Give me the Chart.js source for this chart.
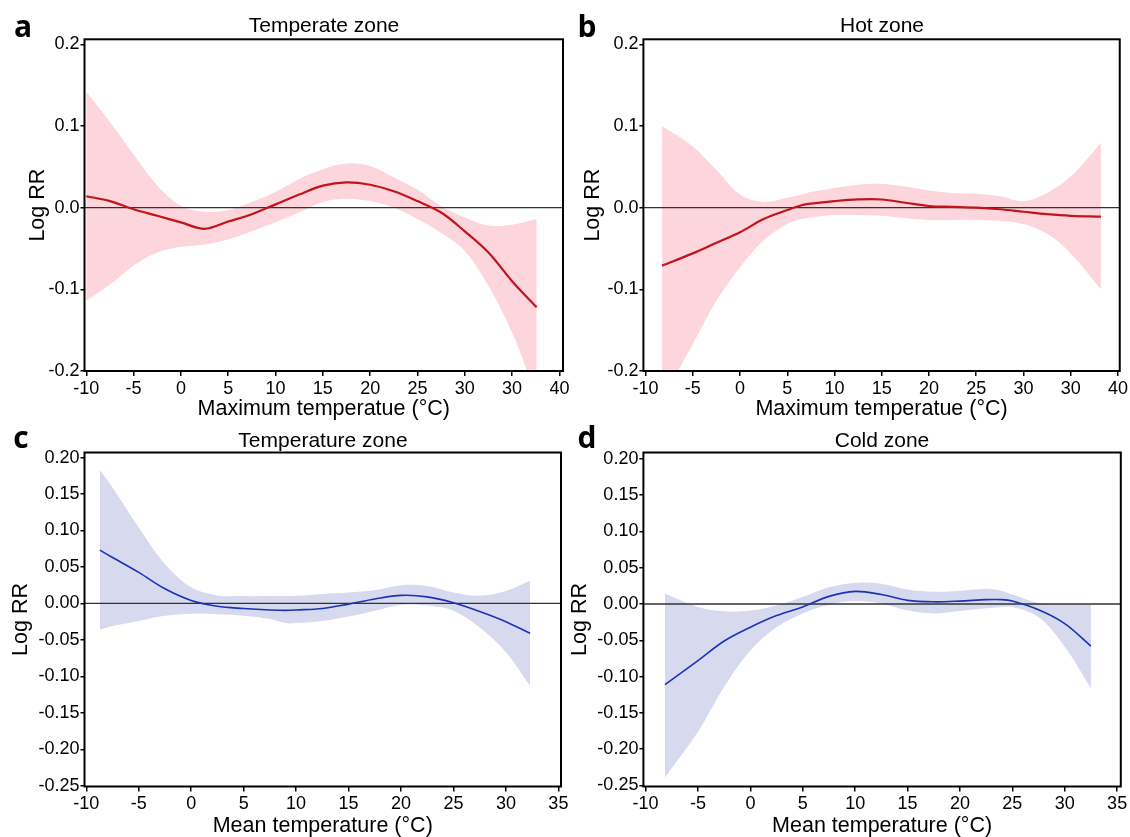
<!DOCTYPE html>
<html>
<head>
<meta charset="utf-8">
<script src="https://cdn.jsdelivr.net/npm/chart.js@4.4.1/dist/chart.umd.min.js"></script>
<style>
  body { margin: 0; background: #fff; }
  #wrap { position: relative; width: 1130px; height: 837px; overflow: hidden; }
  #wrap canvas { position: absolute; left: 0; top: 0; }
  .lbl { position: absolute; font-family: "Liberation Sans", Arial, sans-serif; color: #000; white-space: nowrap; transform: translate(-50%, -50%); }
  .title { font-size: 21px; }
  .letter { font-family: "Open Sans", sans-serif; font-weight: bold; font-size: 30px; }
</style>
</head>
<body>
<div id="wrap">
  <canvas id="cA" width="1130" height="837"></canvas>
  <canvas id="cB" width="1130" height="837"></canvas>
  <canvas id="cC" width="1130" height="837"></canvas>
  <canvas id="cD" width="1130" height="837"></canvas>
  <div class="lbl letter" style="left:23px;top:25px">a</div>
  <div class="lbl letter" style="left:587px;top:25px">b</div>
  <div class="lbl letter" style="left:21px;top:436px">c</div>
  <div class="lbl letter" style="left:587px;top:436px">d</div>
  <div class="lbl title" style="left:324px;top:25px">Temperate zone</div>
  <div class="lbl title" style="left:882px;top:25px">Hot zone</div>
  <div class="lbl title" style="left:323px;top:440px">Temperature zone</div>
  <div class="lbl title" style="left:882px;top:440px">Cold zone</div>
</div>
<script>
/* --------------- Data: panel a (temperate, max temp) --------------- */
const xA = [-10, -7.5, -5, -2.5, 0, 2.5, 5, 7.5, 10, 12.5, 15, 17.5, 20, 22.5, 25, 27.5, 30, 32.5, 35, 37.6];
const fitA = [0.014, 0.008, -0.002, -0.010, -0.018, -0.026, -0.017, -0.008, 0.004, 0.016, 0.027, 0.031, 0.028, 0.020, 0.008, -0.006, -0.029, -0.055, -0.090, -0.122];
const upA = [0.142, 0.105, 0.065, 0.027, 0.002, -0.005, -0.003, 0.007, 0.019, 0.035, 0.047, 0.054, 0.051, 0.037, 0.022, 0.002, -0.012, -0.022, -0.021, -0.014];
const lowA = [-0.114, -0.094, -0.071, -0.055, -0.048, -0.045, -0.039, -0.029, -0.018, -0.006, 0.007, 0.011, 0.008, 0.000, -0.014, -0.031, -0.053, -0.096, -0.153, -0.232];

/* --------------- Data: panel b (hot, max temp) --------------- */
const xB = [-8.25, -5, -2.5, 0, 2.5, 5, 6.5, 7.5, 10, 12.5, 15, 17.5, 20, 22.5, 25, 27.5, 30, 32.5, 35, 38.2];
const fitB = [-0.071, -0.056, -0.043, -0.030, -0.014, -0.003, 0.003, 0.005, 0.008, 0.010, 0.010, 0.006, 0.002, 0.001, 0.000, -0.002, -0.005, -0.008, -0.010, -0.011];
const upB = [0.100, 0.075, 0.046, 0.016, 0.007, 0.012, 0.016, 0.019, 0.024, 0.028, 0.029, 0.026, 0.021, 0.018, 0.017, 0.014, 0.008, 0.018, 0.038, 0.079];
const lowB = [-0.235, -0.167, -0.114, -0.073, -0.040, -0.020, -0.014, -0.012, -0.009, -0.009, -0.010, -0.013, -0.015, -0.015, -0.015, -0.016, -0.020, -0.032, -0.056, -0.100];

/* --------------- Data: panel c (temperature zone, mean temp) --------------- */
const xC = [-8.7, -7.5, -5, -2.5, 0, 2.5, 5, 7.5, 9, 10, 12.5, 15, 17.5, 20, 22.5, 25, 27.5, 30, 32.3];
const fitC = [0.073, 0.063, 0.0425, 0.020, 0.004, -0.004, -0.007, -0.009, -0.0095, -0.009, -0.007, -0.001, 0.006, 0.011, 0.009, 0.001, -0.011, -0.025, -0.041];
const upC = [0.183, 0.159, 0.104, 0.054, 0.022, 0.011, 0.010, 0.010, 0.010, 0.0105, 0.013, 0.015, 0.018, 0.025, 0.024, 0.015, 0.0105, 0.017, 0.031];
const lowC = [-0.036, -0.031, -0.024, -0.017, -0.014, -0.015, -0.017, -0.0215, -0.027, -0.027, -0.024, -0.018, -0.010, -0.002, -0.003, -0.010, -0.033, -0.067, -0.113];

/* --------------- Data: panel d (cold zone, mean temp) --------------- */
const xD = [-8.15, -5, -2.5, 0, 2.5, 5, 7.5, 10, 12.5, 15, 17.5, 20, 22.5, 24, 25, 27.5, 30, 32.5];
const fitD = [-0.111, -0.078, -0.051, -0.032, -0.016, -0.004, 0.0105, 0.0174, 0.013, 0.005, 0.003, 0.004, 0.006, 0.006, 0.004, -0.008, -0.027, -0.058];
const upD = [0.014, -0.004, -0.010, -0.009, -0.002, 0.0096, 0.023, 0.029, 0.028, 0.020, 0.017, 0.018, 0.021, 0.018, 0.013, 0.0014, -0.0005, -0.0005];
const lowD = [-0.239, -0.176, -0.114, -0.064, -0.032, -0.013, -0.001, 0.004, 0.0005, -0.0087, -0.013, -0.0096, -0.006, -0.004, -0.004, -0.018, -0.059, -0.116];

/* --------------- Tick values and labels --------------- */
const xTicksMax = [-10, -5, 0, 5, 10, 15, 20, 25, 30, 35, 40];
const xLabelsMax = ["-10", "-5", "0", "5", "10", "15", "20", "25", "30", "30", "40"];
const xTicksMean = [-10, -5, 0, 5, 10, 15, 20, 25, 30, 35];
const xLabelsMean = ["-10", "-5", "0", "5", "10", "15", "20", "25", "30", "35"];
const yTicksMax = [-0.2, -0.1, 0, 0.1, 0.2];
const yLabelsMax = ["-0.2", "-0.1", "0.0", "0.1", "0.2"];
const yTicksMean = [-0.25, -0.2, -0.15, -0.1, -0.05, 0, 0.05, 0.1, 0.15, 0.2];
const yLabelsMean = ["-0.25", "-0.20", "-0.15", "-0.10", "-0.05", "0.00", "0.05", "0.10", "0.15", "0.20"];

/* --------------- Colors --------------- */
const pinkBand = "#fdd5dc";
const redLine = "#c3141c";
const blueBand = "#d7d9ef";
const blueLine = "#1a33b5";

const tickFont = { family: "'Liberation Sans', Arial, sans-serif", size: 18 };
const axisFont = { family: "'Liberation Sans', Arial, sans-serif", size: 21.5, lineHeight: 1.0 };

const pts = (xs, ys) => xs.map((x, i) => ({ x: x, y: ys[i] }));

/* draws the box around the plot area */
const boxPlugin = {
  id: "box",
  afterDatasetsDraw(chart) {
    const a = chart.chartArea, ctx = chart.ctx;
    ctx.save();
    ctx.strokeStyle = "#000";
    ctx.lineWidth = 2;
    ctx.strokeRect(a.left, a.top, a.right - a.left, a.bottom - a.top);
    ctx.restore();
  },
};

function makePanel(id, cfg) {
  // higher order is drawn first (underneath)
  const ds = [
    { data: pts(cfg.x, cfg.up), borderWidth: 0, pointRadius: 0, fill: "+1", backgroundColor: cfg.band, tension: 0.35, order: 4 },
    { data: pts(cfg.x, cfg.low), borderWidth: 0, pointRadius: 0, fill: false, tension: 0.35, order: 3 },
    { data: [{ x: cfg.xmin, y: 0 }, { x: cfg.xmax, y: 0 }], borderColor: "#333", borderWidth: 1.3, pointRadius: 0, fill: false, order: 2 },
    { data: pts(cfg.x, cfg.fit), borderColor: cfg.line, borderWidth: cfg.lw, pointRadius: 0, fill: false, tension: 0.35, order: 1 },
  ];
  return new Chart(document.getElementById(id), {
    type: "line",
    data: { datasets: ds },
    plugins: [boxPlugin],
    options: {
      responsive: false,
      animation: false,
      devicePixelRatio: 1,
      layout: { padding: cfg.pad },
      plugins: { legend: { display: false }, tooltip: { enabled: false } },
      scales: {
        x: {
          type: "linear",
          min: cfg.xmin,
          max: cfg.xmax,
          afterBuildTicks: (s) => { s.ticks = cfg.xt.map((v) => ({ value: v })); },
          afterFit: (s) => { s.height = cfg.xh; },
          grid: { drawOnChartArea: false, drawTicks: true, tickLength: 5, color: "#000", lineWidth: 1.5 },
          border: { display: false },
          ticks: { font: tickFont, color: "#000", padding: 2, maxRotation: 0, autoSkip: false,
                   callback: (v, i) => cfg.xl[i] },
          title: { display: true, text: cfg.xtitle, font: axisFont, color: "#000", padding: 0 },
        },
        y: {
          min: cfg.ymin,
          max: cfg.ymax,
          afterBuildTicks: (s) => { s.ticks = cfg.yt.map((v) => ({ value: v })); },
          afterFit: (s) => { s.width = cfg.yw; },
          grid: { drawOnChartArea: false, drawTicks: true, tickLength: 4, color: "#000", lineWidth: 1.5 },
          border: { display: false },
          ticks: { font: tickFont, color: "#000", padding: 1, autoSkip: false,
                   callback: (v, i) => cfg.yl[i] },
          title: { display: true, text: "Log RR", font: axisFont, color: "#000", padding: 0 },
        },
      },
    },
  });
}

/* plot areas: a (84.5,39.3)-(563,371)  b (643.4,39.3)-(1120.8,371)
   c (84.5,452.5)-(561,786.5)  d (643.4,452.5)-(1120.8,786.5) */
makePanel("cA", {
  x: xA, fit: fitA, up: upA, low: lowA, band: pinkBand, line: redLine, lw: 2.2,
  xmin: -10.19, xmax: 40.38, ymin: -0.2, ymax: 0.2061,
  xt: xTicksMax, xl: xLabelsMax, yt: yTicksMax, yl: yLabelsMax,
  xtitle: "Maximum temperatue (°C)", xh: 49, yw: 57.25,
  pad: { left: 27.25, top: 39.3, right: 1130 - 563, bottom: 837 - 371 - 49 },
});
makePanel("cB", {
  x: xB, fit: fitB, up: upB, low: lowB, band: pinkBand, line: redLine, lw: 2.2,
  xmin: -10.23, xmax: 40.19, ymin: -0.2, ymax: 0.2061,
  xt: xTicksMax, xl: xLabelsMax, yt: yTicksMax, yl: yLabelsMax,
  xtitle: "Maximum temperatue (°C)", xh: 49, yw: 61.15,
  pad: { left: 582.25, top: 39.3, right: 1130 - 1120.8, bottom: 837 - 371 - 49 },
});
makePanel("cC", {
  x: xC, fit: fitC, up: upC, low: lowC, band: blueBand, line: blueLine, lw: 1.6,
  xmin: -10.17, xmax: 35.25, ymin: -0.251, ymax: 0.2069,
  xt: xTicksMean, xl: xLabelsMean, yt: yTicksMean, yl: yLabelsMean,
  xtitle: "Mean temperature (°C)", xh: 50.25, yw: 74.25,
  pad: { left: 10.25, top: 452.5, right: 1130 - 561, bottom: 0.25 },
});
makePanel("cD", {
  x: xD, fit: fitD, up: upD, low: lowD, band: blueBand, line: blueLine, lw: 1.6,
  xmin: -10.21, xmax: 35.35, ymin: -0.2514, ymax: 0.2087,
  xt: xTicksMean, xl: xLabelsMean, yt: yTicksMean, yl: yLabelsMean,
  xtitle: "Mean temperature (°C)", xh: 50.25, yw: 74.15,
  pad: { left: 569.25, top: 452.5, right: 1130 - 1120.8, bottom: 0.25 },
});
</script>
</body>
</html>
